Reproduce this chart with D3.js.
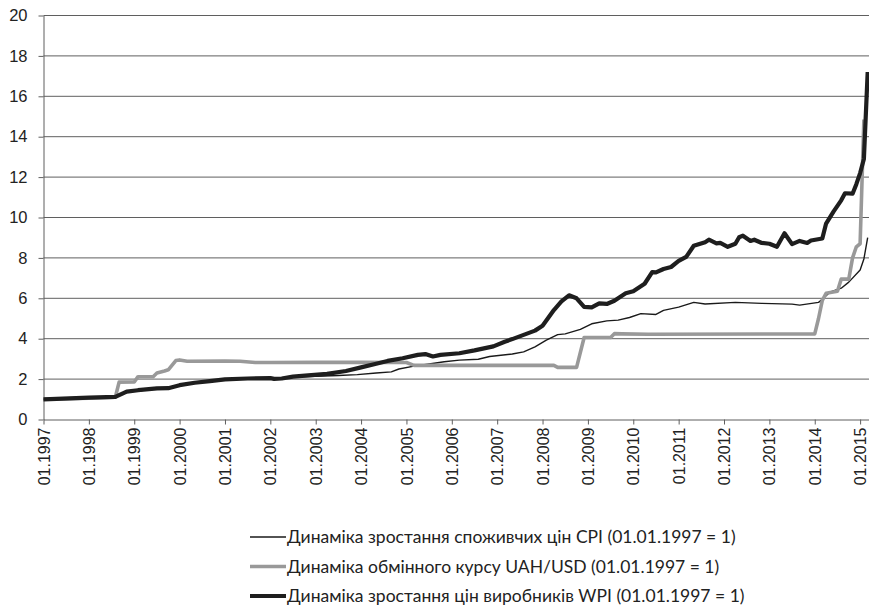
<!DOCTYPE html>
<html>
<head>
<meta charset="utf-8">
<script src="https://cdn.jsdelivr.net/npm/d3@7"></script>
<style>
  body { margin: 0; background: #fff; }
  svg { display: block; font-family: Lato, "Liberation Sans", sans-serif; }
</style>
</head>
<body>
<svg id="chart" width="869" height="606"></svg>
<script>
// months counted from 01.1997 (0 = 01.1997)
var xTickLabels = ['01.1997', '01.1998', '01.1999', '01.2000', '01.2001', '01.2002', '01.2003',
  '01.2004', '01.2005', '01.2006', '01.2007', '01.2008', '01.2009', '01.2010', '01.2011',
  '01.2012', '01.2013', '01.2014', '01.2015'];
var yTicks = [0, 2, 4, 6, 8, 10, 12, 14, 16, 18, 20];

var cpiMonths = [0, 6, 12, 19, 21, 23, 27, 31, 34, 36, 40, 44, 48, 54, 60, 62, 66, 72, 78, 83, 88,
  92, 94, 98, 102, 106, 110, 115, 118, 124, 127, 130, 133, 136, 138, 142, 145, 149, 152, 155, 158,
  162, 164, 168, 172, 175, 183, 190, 198, 200, 205, 206, 208, 211, 213, 216, 217, 218];
var cpiValues = [1.00, 1.03, 1.07, 1.12, 1.30, 1.38, 1.46, 1.53, 1.55, 1.70, 1.80, 1.88, 1.98, 2.02,
  2.04, 1.99, 2.10, 2.14, 2.18, 2.22, 2.30, 2.36, 2.50, 2.64, 2.75, 2.86, 2.94, 2.98, 3.12, 3.24,
  3.35, 3.60, 3.93, 4.20, 4.24, 4.46, 4.74, 4.88, 4.92, 5.05, 5.24, 5.20, 5.40, 5.56, 5.80, 5.72,
  5.80, 5.75, 5.71, 5.66, 5.80, 5.95, 6.30, 6.50, 6.80, 7.40, 7.95, 9.00];

var uahMonths = [0, 12, 19, 20, 24, 25, 29, 30, 32, 33, 35, 36, 38, 48, 52, 56, 60, 72, 84, 96, 98,
  135, 136, 141, 143, 150, 151, 153, 160, 204, 205, 206, 207, 210, 211, 213, 214, 215, 216, 217];
var uahValues = [1.00, 1.05, 1.10, 1.85, 1.86, 2.12, 2.12, 2.30, 2.40, 2.46, 2.92, 2.95, 2.88, 2.89,
  2.88, 2.82, 2.82, 2.83, 2.83, 2.82, 2.68, 2.68, 2.58, 2.58, 4.06, 4.06, 4.25, 4.24, 4.22, 4.24,
  5.00, 5.90, 6.25, 6.35, 6.95, 6.95, 8.00, 8.55, 8.70, 14.85];

var wpiMonths = [0, 12, 19, 22, 25, 30, 33, 36, 40, 44, 48, 54, 60, 61, 63, 66, 70, 75, 80, 84, 88,
  91, 95, 99, 101, 103, 105, 110, 114, 119, 122, 124, 130, 132, 135, 137, 139, 141, 143, 145, 147,
  149, 151, 154, 156, 159, 161, 162, 164, 166, 168, 170, 172, 175, 176, 178, 179, 181, 183, 184,
  185, 187, 188, 190, 192, 194, 196, 198, 200, 202, 203, 206, 207, 209, 211, 212, 214, 215, 216,
  217, 218];
var wpiValues = [1.00, 1.08, 1.12, 1.38, 1.45, 1.54, 1.55, 1.70, 1.82, 1.90, 1.99, 2.03, 2.05, 2.01,
  2.03, 2.12, 2.18, 2.26, 2.40, 2.58, 2.76, 2.90, 3.03, 3.20, 3.24, 3.12, 3.20, 3.28, 3.42, 3.62,
  3.85, 3.98, 4.40, 4.64, 5.42, 5.85, 6.15, 6.00, 5.58, 5.55, 5.75, 5.72, 5.88, 6.25, 6.35, 6.72,
  7.30, 7.28, 7.45, 7.55, 7.85, 8.05, 8.60, 8.78, 8.90, 8.72, 8.74, 8.55, 8.70, 9.02, 9.10, 8.84,
  8.90, 8.74, 8.70, 8.55, 9.22, 8.68, 8.84, 8.74, 8.86, 8.96, 9.70, 10.30, 10.85, 11.20, 11.18,
  11.65, 12.20, 12.90, 17.20];

var legendLabels = [
  'Динаміка зростання споживчих цін CPI (01.01.1997 = 1)',
  'Динаміка обмінного курсу UAH/USD (01.01.1997 = 1)',
  'Динаміка зростання цін виробників WPI (01.01.1997 = 1)'
];

var series = [
  { months: cpiMonths, values: cpiValues, color: '#1a1a1a', width: 1.4 },
  { months: uahMonths, values: uahValues, color: '#999999', width: 3.6 },
  { months: wpiMonths, values: wpiValues, color: '#1e1e1e', width: 4.2 }
];

var svg = d3.select('#chart')
  , gridColor = '#5f5f5f'
  , x = d3.scaleLinear().domain([0, 218.35]).range([43.5, 869])
  , y = d3.scaleLinear().domain([0, 20]).range([419.5, 15.5]);

// horizontal grid
svg.append('g')
  .selectAll('line.y')
  .data(yTicks.slice(1))
  .enter().append('line')
    .attr('class', 'y')
    .attr('x1', x.range()[0])
    .attr('x2', x.range()[1])
    .attr('y1', y)
    .attr('y2', y)
    .style('stroke', gridColor)
    .style('stroke-width', 1);

// y axis
var yAxis = svg.append('g')
  .attr('transform', 'translate(' + x.range()[0] + ',0)')
  .call(d3.axisLeft(y).tickValues(yTicks).tickSize(5).tickSizeOuter(0));
yAxis.selectAll('text')
  .attr('x', -16)
  .style('font-size', '16.5px')
  .style('fill', '#222');

// x axis, one tick each January
var xAxis = svg.append('g')
  .attr('transform', 'translate(0,' + y(0) + ')')
  .call(d3.axisBottom(x)
    .tickValues(xTickLabels.map(function(d, i) { return i * 12; }))
    .tickFormat(function(d, i) { return xTickLabels[i]; })
    .tickSize(5)
    .tickSizeOuter(0));
xAxis.selectAll('text')
  .attr('transform', 'rotate(-90)')
  .attr('x', -8)
  .attr('y', 0)
  .attr('dy', '0.35em')
  .style('text-anchor', 'end')
  .style('font-size', '16px')
  .style('fill', '#222');

svg.selectAll('.domain, .tick line')
  .style('stroke', gridColor);

// series lines
var line = d3.line()
  .x(function(d) { return x(d[0]); })
  .y(function(d) { return y(d[1]); })
  .curve(d3.curveLinear);

svg.append('g')
  .selectAll('path.series')
  .data(series)
  .enter().append('path')
    .attr('class', 'series')
    .attr('d', function(s) { return line(d3.zip(s.months, s.values)); })
    .style('fill', 'none')
    .style('stroke', function(s) { return s.color; })
    .style('stroke-width', function(s) { return s.width; })
    .style('stroke-linejoin', 'round');

// legend
var legend = svg.append('g')
  .selectAll('g.item')
  .data(series)
  .enter().append('g')
    .attr('class', 'item')
    .attr('transform', function(s, i) { return 'translate(250,' + (537 + i * 29.5) + ')'; });

legend.append('line')
  .attr('x1', 0)
  .attr('x2', 36)
  .style('stroke', function(s) { return s.color; })
  .style('stroke-width', function(s) { return s.width; });

legend.append('text')
  .attr('x', 37)
  .attr('dy', '0.35em')
  .style('font-size', '17.5px')
  .style('fill', '#222')
  .text(function(s, i) { return legendLabels[i]; });
</script>
</body>
</html>
